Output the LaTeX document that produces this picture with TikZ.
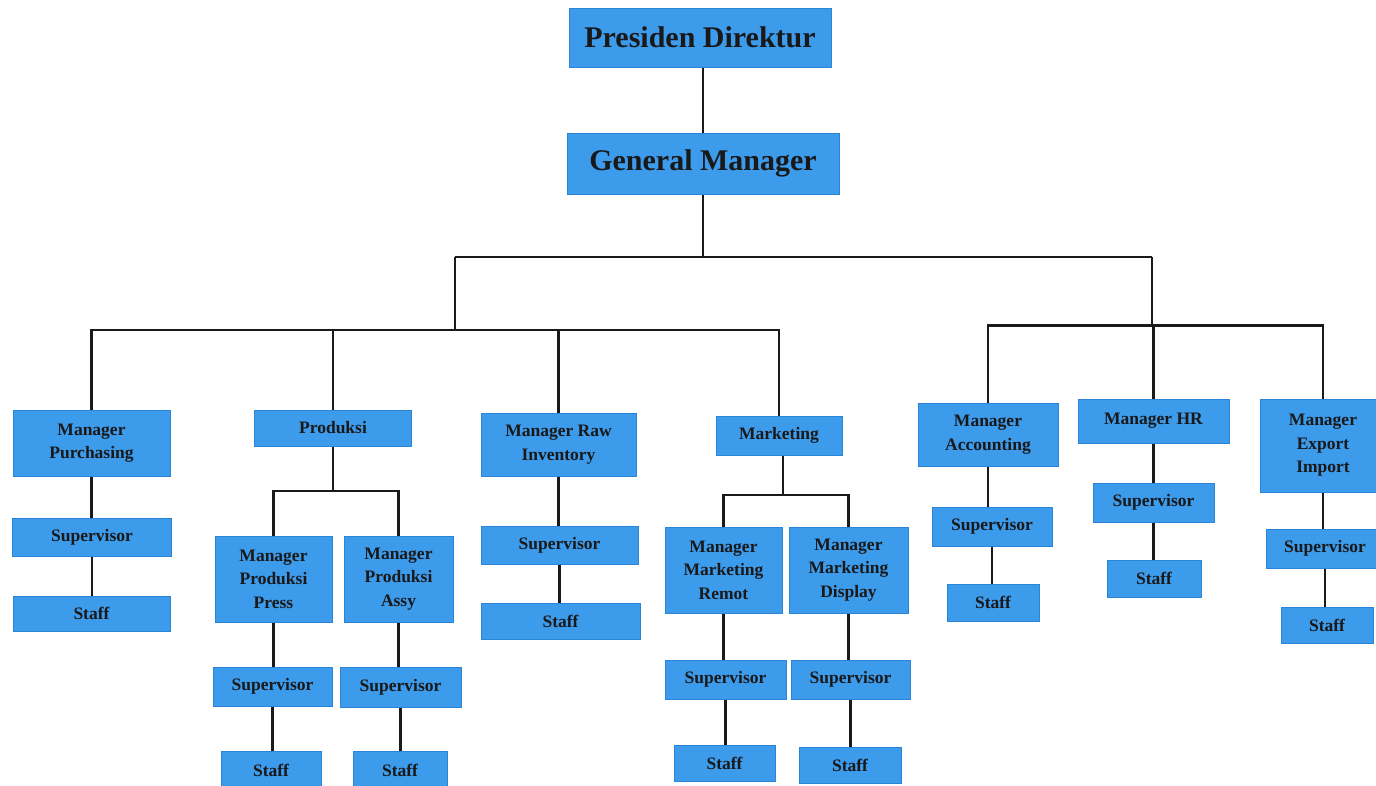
\documentclass[tikz,border=0pt]{standalone}
\usepackage{fontspec}
\setmainfont{Liberation Serif}
\definecolor{boxfill}{HTML}{3D9BEC}
\definecolor{boxline}{HTML}{2B84D6}
\definecolor{wire}{HTML}{1A1A1A}
\begin{document}
\begin{tikzpicture}[x=1pt,y=-1pt,
  box/.style={draw=boxline, line width=1pt, fill=boxfill, inner sep=0pt, align=center,
    font=\fontsize{17.5}{23.5}\selectfont\bfseries, text=black!90},
  bigbox/.style={box, font=\fontsize{30}{32}\selectfont\bfseries},
  wirestyle/.style={draw=wire, line width=2.8pt}]
\useasboundingbox (0,0) rectangle (1376,785);
\fill[white] (0,0) rectangle (1376,785);

% top
\node[bigbox, minimum width=262pt, minimum height=59pt] (pd) at (700,37.5) {Presiden Direktur};
\node[bigbox, minimum width=272pt, minimum height=61pt] (gm) at (703,163.5) {General Manager};

% purchasing
\node[box, minimum width=157pt, minimum height=66pt] (mpur) at (91.5,443) {Manager\\Purchasing};
\node[box, minimum width=159pt, minimum height=38pt] (spur) at (92,537) {Supervisor};
\node[box, minimum width=157pt, minimum height=35pt] (tpur) at (91.5,613.5) {Staff};

% produksi
\node[box, minimum width=157pt, minimum height=36pt] (prod) at (333,428) {Produksi};
\node[box, minimum width=117pt, minimum height=86pt] (mpp) at (273.5,579) {Manager\\Produksi\\Press};
\node[box, minimum width=109pt, minimum height=86pt] (mpa) at (398.5,579) {Manager\\Produksi\\Assy};
\node[box, minimum width=119pt, minimum height=39pt] (spp) at (272.5,686.5) {Supervisor};
\node[box, minimum width=121pt, minimum height=40pt] (spa) at (400.5,687) {Supervisor};
\node[box, minimum width=100pt, minimum height=38pt] (tpp) at (271,770) {Staff};
\node[box, minimum width=94pt, minimum height=38pt] (tpa) at (400,770) {Staff};

% raw inventory
\node[box, minimum width=155pt, minimum height=63pt] (mri) at (558.5,444.5) {Manager Raw\\Inventory};
\node[box, minimum width=157pt, minimum height=38pt] (sri) at (559.5,545) {Supervisor};
\node[box, minimum width=159pt, minimum height=36pt] (tri) at (560.5,621) {Staff};

% marketing
\node[box, minimum width=126pt, minimum height=39pt] (mkt) at (779,435.5) {Marketing};
\node[box, minimum width=117pt, minimum height=86pt] (mmr) at (723.5,570) {Manager\\Marketing\\Remot};
\node[box, minimum width=119pt, minimum height=86pt] (mmd) at (848.5,570) {Manager\\Marketing\\Display};
\node[box, minimum width=121pt, minimum height=39pt] (smr) at (725.5,679.5) {Supervisor};
\node[box, minimum width=119pt, minimum height=39pt] (smd) at (850.5,679.5) {Supervisor};
\node[box, minimum width=101pt, minimum height=36pt] (tmr) at (724.5,763) {Staff};
\node[box, minimum width=102pt, minimum height=36pt] (tmd) at (850,765) {Staff};

% accounting
\node[box, minimum width=140pt, minimum height=63pt] (mac) at (988,434.5) {Manager\\Accounting};
\node[box, minimum width=120pt, minimum height=39pt] (sac) at (992,526.5) {Supervisor};
\node[box, minimum width=92pt, minimum height=37pt] (tac) at (993,602.5) {Staff};

% HR
\node[box, minimum width=151pt, minimum height=44pt] (mhr) at (1153.5,421) {Manager HR};
\node[box, minimum width=121pt, minimum height=39pt] (shr) at (1153.5,502.5) {Supervisor};
\node[box, minimum width=94pt, minimum height=37pt] (thr) at (1154,578.5) {Staff};

% export import
\node[box, minimum width=126pt, minimum height=93pt] (mei) at (1323,445.5) {Manager\\Export\\Import};
\node[box, minimum width=118pt, minimum height=39pt] (sei) at (1325,548.5) {Supervisor};
\node[box, minimum width=92pt, minimum height=36pt] (tei) at (1327,625) {Staff};

% junction coordinates
\coordinate (j0) at (703,257);
\coordinate (jl) at (455,257);
\coordinate (jr) at (1152,257);
\coordinate (jl2) at (455,330);
\coordinate (jr2) at (1152,325.5);
\coordinate (jp) at (333,491);
\coordinate (jm) at (783,495);

% connectors
\draw[wirestyle] (gm.north) -- (gm.north |- pd.south);
\draw[wirestyle] (gm.south) -- (j0);
\draw[wirestyle] (jl) -- (jr);
\draw[wirestyle] (jl) -- (jl2);
\draw[wirestyle] (jr) -- (jr2);
% left bus
\draw[wirestyle] (mpur.north) |- (jl2) -| (mkt.north);
\draw[wirestyle] (prod.north) -- (prod.north |- jl2);
\draw[wirestyle] (mri.north) -- (mri.north |- jl2);
% right bus
\draw[wirestyle] (mac.north) |- (jr2) -| (mei.north);
\draw[wirestyle] (mhr.north) -- (mhr.north |- jr2);
% purchasing
\draw[wirestyle] (mpur.south) -- (mpur.south |- spur.north);
\draw[wirestyle] (spur.south) -- (spur.south |- tpur.north);
% produksi
\draw[wirestyle] (prod.south) -- (jp);
\draw[wirestyle] (mpp.north) |- (jp) -| (mpa.north);
\draw[wirestyle] (mpp.south) -- (mpp.south |- spp.north);
\draw[wirestyle] (spp.south) -- (spp.south |- tpp.north);
\draw[wirestyle] (mpa.south) -- (mpa.south |- spa.north);
\draw[wirestyle] (spa.south) -- (spa.south |- tpa.north);
% raw inventory
\draw[wirestyle] (mri.south) -- (mri.south |- sri.north);
\draw[wirestyle] (sri.south) -- (sri.south |- tri.north);
% marketing
\draw[wirestyle] (jm) -- (jm |- mkt.south);
\draw[wirestyle] (mmr.north) |- (jm) -| (mmd.north);
\draw[wirestyle] (mmr.south) -- (mmr.south |- smr.north);
\draw[wirestyle] (smr.south) -- (smr.south |- tmr.north);
\draw[wirestyle] (mmd.south) -- (mmd.south |- smd.north);
\draw[wirestyle] (smd.south) -- (smd.south |- tmd.north);
% accounting
\draw[wirestyle] (mac.south) -- (mac.south |- sac.north);
\draw[wirestyle] (sac.south) -- (sac.south |- tac.north);
% HR
\draw[wirestyle] (mhr.south) -- (mhr.south |- shr.north);
\draw[wirestyle] (shr.south) -- (shr.south |- thr.north);
% export import
\draw[wirestyle] (mei.south) -- (mei.south |- sei.north);
\draw[wirestyle] (sei.south) -- (sei.south |- tei.north);
\end{tikzpicture}
\end{document}
